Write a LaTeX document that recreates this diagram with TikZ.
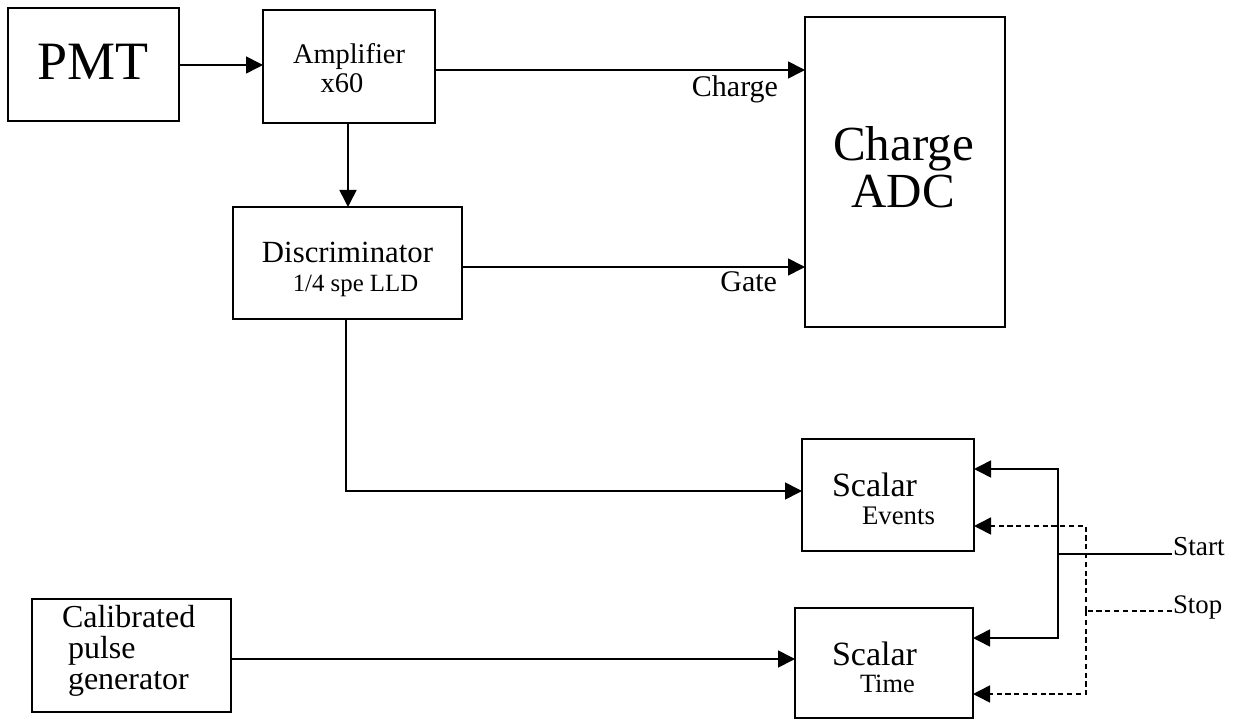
\documentclass[tikz,border=0pt]{standalone}
\usepackage{fontspec}
\setmainfont{Liberation Serif}
\usetikzlibrary{arrows.meta}
\begin{document}
\begin{tikzpicture}[x=0.5pt,y=-0.5pt,
  blk/.style={draw, line width=0.8pt, inner sep=0pt, outer sep=0pt},
  lbl/.style={inner sep=0pt, outer sep=0pt},
  wire/.style={line width=0.8pt},
  arr/.style={wire, -{Triangle[length=8.5pt,width=8.5pt]}},
  dwire/.style={wire, dash pattern=on 2.6pt off 1.8pt},
  darr/.style={dwire, -{Triangle[length=8.5pt,width=8.5pt]}}]
\useasboundingbox (0,0) rectangle (1234,721);

% boxes
\node[blk, minimum width=85.5pt, minimum height=56.5pt] (pmt) at (93.5,64.5) {};
\node[blk, minimum width=86pt, minimum height=56.5pt] (amp) at (349,66.5) {};
\node[blk, minimum width=114.5pt, minimum height=56pt] (disc) at (347.5,263) {};
\node[blk, minimum width=100pt, minimum height=155pt] (adc) at (905,172) {};
\node[blk, minimum width=86pt, minimum height=56pt] (se) at (888,495) {};
\node[blk, minimum width=89pt, minimum height=55pt] (st) at (884,663) {};
\node[blk, minimum width=99.5pt, minimum height=56.5pt] (cal) at (131.5,655.5) {};

% texts
\node[lbl, anchor=base, font=\fontsize{27}{30}\selectfont] (pmtT) at (93,80) {PMT};
\node[lbl, anchor=base, font=\fontsize{14.2}{17}\selectfont] (ampT1) at (349,64) {Amplifier};
\node[lbl, anchor=base, font=\fontsize{14.2}{17}\selectfont] (ampT2) at (342,93) {x60};
\node[lbl, anchor=base, font=\fontsize{15.4}{18}\selectfont] (discT1) at (347.5,263) {Discriminator};
\node[lbl, anchor=base, font=\fontsize{12.4}{15}\selectfont] (discT2) at (355.5,292) {1/4 spe LLD};
\node[lbl, anchor=base, font=\fontsize{24.5}{29}\selectfont] (adcT1) at (903.5,161) {Charge};
\node[lbl, anchor=base, font=\fontsize{24.5}{29}\selectfont] (adcT2) at (903,208) {ADC};
\node[lbl, anchor=base west, font=\fontsize{17}{20}\selectfont] (seT1) at (832,496) {Scalar};
\node[lbl, anchor=base west, font=\fontsize{13.4}{16}\selectfont] (seT2) at (862,524) {Events};
\node[lbl, anchor=base west, font=\fontsize{17}{20}\selectfont] (stT1) at (832,665) {Scalar};
\node[lbl, anchor=base west, font=\fontsize{13.2}{16}\selectfont] (stT2) at (860,692) {Time};
\node[lbl, anchor=base west, font=\fontsize{16}{19}\selectfont] (calT1) at (62,627) {Calibrated};
\node[lbl, anchor=base west, font=\fontsize{16}{19}\selectfont] (calT2) at (68,658) {pulse};
\node[lbl, anchor=base west, font=\fontsize{16}{19}\selectfont] (calT3) at (68,689) {generator};
\node[lbl, anchor=base east, font=\fontsize{15}{18}\selectfont] (chL) at (778,97) {Charge};
\node[lbl, anchor=base east, font=\fontsize{15}{18}\selectfont] (gaL) at (777,292) {Gate};
\node[lbl, anchor=base west, font=\fontsize{13.7}{16}\selectfont] (startL) at (1173,555) {Start};
\node[lbl, anchor=base west, font=\fontsize{13.4}{16}\selectfont] (stopL) at (1173,613) {Stop};

% junction coordinates
\coordinate (startend) at (1172,554);
\coordinate (startj) at (1058,554);
\coordinate (stopend) at (1172,611);
\coordinate (stopj) at (1086,611);

% connectors
\draw[arr] (pmt.east |- 0,65) -- (amp.west |- 0,65);
\draw[arr] (amp.east |- 0,70) -- (adc.west |- 0,70);
\draw[arr] (amp.south -| 348,0) -- (disc.north -| 348,0);
\draw[arr] (disc.east |- 0,267) -- (adc.west |- 0,267);
\draw[arr] (disc.south -| 346,0) |- (se.west |- 0,491);
\draw[arr] (cal.east |- 0,659) -- (st.west |- 0,659);

\draw[wire] (startend) -- (startj);
\draw[arr] (startj) |- (se.east |- 0,469);
\draw[arr] (startj) |- (st.east |- 0,638);

\draw[dwire] (stopend) -- (stopj);
\draw[darr] (stopj) |- (se.east |- 0,526);
\draw[darr] (stopj) |- (st.east |- 0,694);
\end{tikzpicture}
\end{document}
